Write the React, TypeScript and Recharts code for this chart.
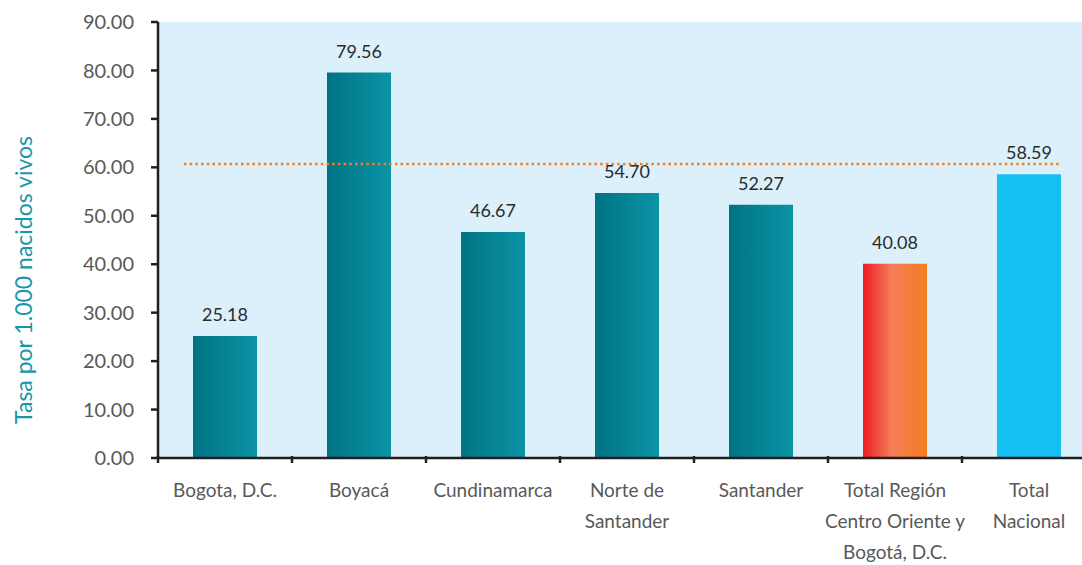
import { BarChart, Bar, XAxis, YAxis, CartesianGrid, Cell, LabelList, ReferenceLine } from 'recharts';

const categorias = [
  'Bogota, D.C.',
  'Boyacá',
  'Cundinamarca',
  'Norte de\nSantander',
  'Santander',
  'Total Región\nCentro Oriente y\nBogotá, D.C.',
  'Total\nNacional',
];
const tasas = [25.18, 79.56, 46.67, 54.7, 52.27, 40.08, 58.59];
const rellenos = ['teal', 'teal', 'teal', 'teal', 'teal', 'region', 'nacional'];
const ticksY = [0, 10, 20, 30, 40, 50, 60, 70, 80, 90];
const referencia = 60.7;

const datos = categorias.map((nombre, i) => ({ nombre, tasa: tasas[i], relleno: rellenos[i] }));

const FUENTE = '"Liberation Sans Narrow", Lato, sans-serif';
const ANCHO = 1096;
const IZQ = 158;
const BANDA = (ANCHO - IZQ) / categorias.length;

const colorRelleno = (r: string) =>
  r === 'teal' ? 'url(#gradTeal)' : r === 'region' ? 'url(#gradRegion)' : '#16c0f0';

function TickCategoria({ x, y, payload }: any) {
  const lineas = String(payload.value).split('\n');
  return (
    <g>
      <line x1={x - BANDA / 2} x2={x - BANDA / 2} y1={y - 10} y2={y - 3} stroke="#231f20" strokeWidth={2.5} />
      <text x={x} y={y + 31} textAnchor="middle" fontSize={19} fill="#595959" fontFamily={FUENTE}>
        {lineas.map((l, i) => (
          <tspan key={i} x={x} dy={i === 0 ? 0 : 31}>
            {l}
          </tspan>
        ))}
      </text>
    </g>
  );
}

function LineaPunteada({ x1, x2, y1 }: any) {
  return (
    <line
      x1={x1 + 26}
      x2={x2 - 37}
      y1={y1}
      y2={y1}
      stroke="#f47f20"
      strokeWidth={2.5}
      strokeDasharray="2.5 3.2"
    />
  );
}

function EtiquetaY() {
  return (
    <text
      x={0}
      y={0}
      transform="translate(32, 280) rotate(-90)"
      textAnchor="middle"
      fontSize={23}
      fill="#1a96aa"
      fontFamily={FUENTE}
    >
      Tasa por 1.000 nacidos vivos
    </text>
  );
}

export default function App() {
  return (
    <div style={{ position: 'absolute', left: 0, top: 0, width: 1082, height: 565, overflow: 'hidden', background: '#fff' }}>
      <BarChart width={ANCHO} height={565} data={datos} margin={{ top: 22, right: 0, bottom: 0, left: 0 }}>
        <defs>
          <linearGradient id="gradTeal" x1="0" y1="0" x2="1" y2="0">
            <stop offset="0%" stopColor="#007383" />
            <stop offset="100%" stopColor="#0b94a5" />
          </linearGradient>
          <linearGradient id="gradRegion" x1="0" y1="0" x2="1" y2="0">
            <stop offset="0%" stopColor="#ed1c24" />
            <stop offset="45%" stopColor="#f47e5a" />
            <stop offset="100%" stopColor="#f47d20" />
          </linearGradient>
        </defs>
        <CartesianGrid horizontal={false} vertical={false} fill="#dbf0fa" stroke="none" />
        <XAxis
          dataKey="nombre"
          height={107}
          interval={0}
          tickLine={false}
          axisLine={{ stroke: '#231f20', strokeWidth: 2.5 }}
          tick={<TickCategoria />}
        />
        <YAxis
          width={IZQ}
          domain={[0, 90]}
          ticks={ticksY}
          interval={0}
          tickFormatter={(v: number) => v.toFixed(2)}
          tickSize={7}
          tickMargin={17}
          tickLine={{ stroke: '#231f20', strokeWidth: 2.5 }}
          axisLine={{ stroke: '#231f20', strokeWidth: 2.5 }}
          tick={{ fontSize: 20, fill: '#595959', fontFamily: FUENTE }}
          label={<EtiquetaY />}
        />
        <ReferenceLine y={referencia} shape={<LineaPunteada />} />
        <Bar dataKey="tasa" barSize={64} isAnimationActive={false}>
          {datos.map((d, i) => (
            <Cell key={`cell-${i}`} fill={colorRelleno(d.relleno)} />
          ))}
          <LabelList
            dataKey="tasa"
            position="top"
            offset={15}
            formatter={(v: any) => Number(v).toFixed(2)}
            style={{ fontSize: 18, fill: '#2b2b2b', fontFamily: FUENTE }}
          />
        </Bar>
      </BarChart>
    </div>
  );
}
